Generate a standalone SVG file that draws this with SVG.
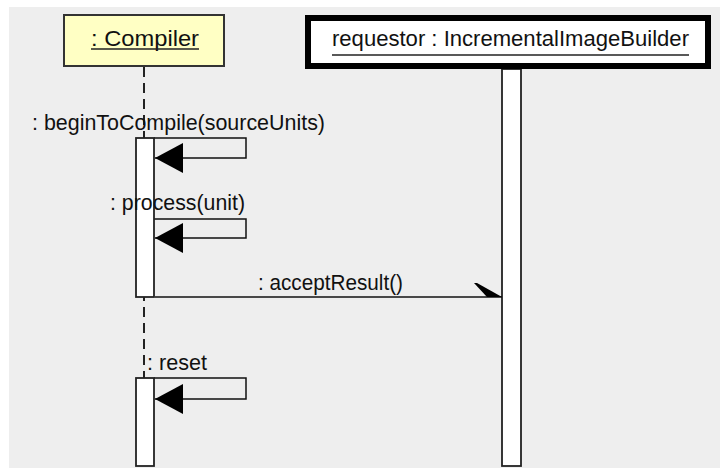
<svg xmlns="http://www.w3.org/2000/svg" width="720" height="468" viewBox="0 0 720 468">
  <style>
    text { font-family: "Liberation Sans", Arial, sans-serif; fill: #111; }
    .msg { font-size: 22px; }
    .head { font-size: 22px; }
    .uline { stroke: #222; stroke-width: 1.5; }
    .bar { fill: #fff; stroke: #222; stroke-width: 1.8; }
    .life { fill: none; stroke: #222; stroke-width: 2; stroke-dasharray: 10 6; }
    .call { fill: none; stroke: #111; stroke-width: 1.5; }
  </style>
  <defs>
    <!-- filled triangle for synchronous self-calls -->
    <marker id="solid" markerUnits="userSpaceOnUse" markerWidth="29" markerHeight="31" refX="28" refY="15" orient="auto">
      <path d="M0,0 L28,15 L0,30 Z" fill="#000"/>
    </marker>
    <!-- half stick head for the asynchronous call -->
    <marker id="half" markerUnits="userSpaceOnUse" markerWidth="30" markerHeight="16" refX="28" refY="15" orient="auto">
      <path d="M0,1 L3,1 L28,15 L13,15 Z" fill="#000"/>
    </marker>
  </defs>

  <!-- canvas -->
  <rect x="0" y="0" width="720" height="468" fill="#fff"/>
  <rect x="9" y="7" width="711" height="461" fill="#eeeeee"/>

  <!-- lifeline of the compiler -->
  <g id="compiler">
    <line class="life" x1="144" y1="67" x2="144" y2="378"/>
    <rect x="64" y="15" width="160" height="51" fill="#ffffc4" stroke="#333" stroke-width="2"/>
    <text class="head" x="91" y="46" textLength="108" lengthAdjust="spacingAndGlyphs">: Compiler</text>
    <line class="uline" x1="91" y1="49" x2="199" y2="49"/>
  </g>

  <!-- lifeline of the requestor -->
  <g id="requestor">
    <rect class="bar" x="502" y="69" width="19" height="397"/>
    <rect x="308" y="18" width="400" height="48" fill="#fff" stroke="#000" stroke-width="6"/>
    <text class="head" x="332" y="46" textLength="357" lengthAdjust="spacingAndGlyphs">requestor : IncrementalImageBuilder</text>
    <line class="uline" x1="332" y1="55" x2="689" y2="55"/>
  </g>

  <!-- messages -->
  <g id="connectors">
    <path class="call" d="M154,138 H246 V158 H155" marker-end="url(#solid)"/>
    <path class="call" d="M154,219 H246 V238 H155" marker-end="url(#solid)"/>
    <line class="call" x1="155" y1="297" x2="502" y2="297" marker-end="url(#half)"/>
    <path class="call" d="M154,378 H246 V399 H155" marker-end="url(#solid)"/>
  </g>

  <!-- activations of the compiler -->
  <g id="compiler-activation-1">
    <rect class="bar" x="136" y="138" width="18" height="159"/>
  </g>
  <g id="compiler-activation-2">
    <rect class="bar" x="136" y="378" width="18" height="88"/>
  </g>

  <!-- message labels -->
  <g id="labels">
    <text class="msg" x="32" y="130" textLength="293" lengthAdjust="spacingAndGlyphs">: beginToCompile(sourceUnits)</text>
    <text class="msg" x="110" y="210" textLength="135" lengthAdjust="spacingAndGlyphs">: process(unit)</text>
    <text class="msg" x="258" y="290" textLength="145" lengthAdjust="spacingAndGlyphs">: acceptResult()</text>
    <text class="msg" x="147" y="370" textLength="60" lengthAdjust="spacingAndGlyphs">: reset</text>
  </g>
</svg>
